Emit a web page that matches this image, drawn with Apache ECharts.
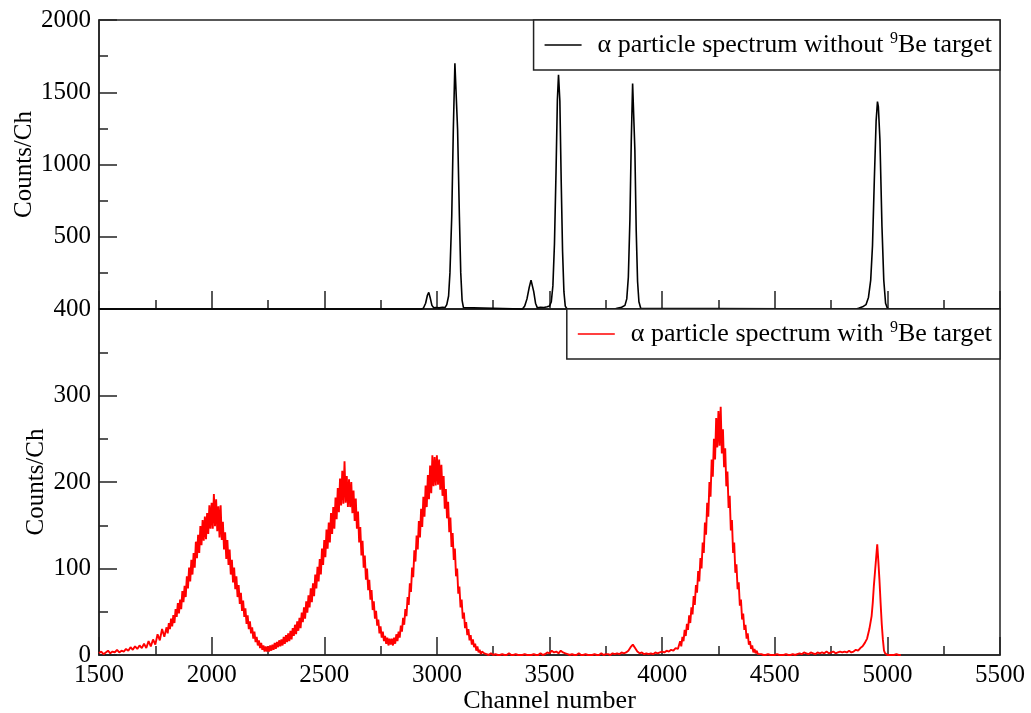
<!DOCTYPE html>
<html>
<head>
<meta charset="utf-8">
<script src="https://cdn.jsdelivr.net/npm/echarts@6/dist/echarts.min.js"></script>
<style>
html,body{margin:0;padding:0;background:#fff;}
#chart{width:1031px;height:713px;}
</style>
</head>
<body>
<div id="chart"></div>
<script>
// ---- Data ----
const blackName = 'α particle spectrum without 9Be target';
const redName = 'α particle spectrum with 9Be target';
const xTitle = 'Channel number';
const yTitle = 'Counts/Ch';

// [channel, counts] — spectrum without target (top panel)
const blackSpectrum = [
  [1500,0],[2930,0],[2940,5],[2950,40],[2958,95],[2964,115],[2970,80],[2978,25],[2986,8],
  [2995,10],[3010,8],[3025,12],[3036,10],[3044,30],[3052,90],[3058,250],[3066,640],[3073,1240],
  [3080,1700],[3085,1690],[3092,1240],[3100,640],[3106,250],[3112,60],[3118,10],[3126,0],
  [3380,0],[3390,20],[3400,70],[3410,150],[3418,200],[3424,190],[3430,120],[3438,40],[3446,8],
  [3460,12],[3475,10],[3490,15],[3500,20],[3508,50],[3515,160],[3522,450],[3529,950],[3535,1450],
  [3540,1620],[3546,1440],[3552,880],[3558,400],[3564,120],[3570,20],[3578,0],
  [3790,0],[3800,5],[3820,12],[3835,25],[3843,70],[3850,220],[3857,620],[3863,1160],[3869,1560],
  [3873,1550],[3879,1100],[3885,540],[3891,190],[3897,50],[3905,5],[3912,0],
  [4860,0],[4872,5],[4890,15],[4905,30],[4916,80],[4926,200],[4934,440],[4942,890],[4950,1300],
  [4956,1435],[4960,1400],[4967,1170],[4976,570],[4984,200],[4992,40],[5000,5],[5010,0],[5500,0]
];

// [channel, counts] — spectrum with 9Be target (bottom panel)
const redSpectrum = [
  [1500,2],[1510,4],[1520,1],[1530,3],[1540,5],[1550,2],[1560,4],[1570,3],[1580,6],[1590,3],
  [1600,5],[1610,4],[1620,7],[1630,5],[1640,9],[1650,6],[1660,10],[1670,7],[1680,11],[1690,8],
  [1700,13],[1710,8],[1720,16],[1730,10],[1740,18],[1750,12],[1760,24],[1770,17],[1780,30],[1790,21],
  [1800,32],[1805,25],[1810,37],[1815,30],[1820,42],[1825,33],[1830,46],[1835,37],[1840,53],[1845,44],
  [1850,60],[1855,48],[1860,64],[1865,53],[1870,74],[1875,61],[1880,80],[1885,67],[1890,91],[1895,77],
  [1900,101],[1905,85],[1910,110],[1915,93],[1920,118],[1925,101],[1930,131],[1935,112],[1940,139],[1945,118],
  [1950,149],[1955,127],[1960,156],[1965,132],[1970,160],[1975,134],[1980,164],[1985,140],[1990,173],[1995,146],
  [2000,176],[2005,146],[2010,186],[2015,149],[2020,180],[2025,143],[2030,172],[2035,136],[2040,173],[2045,133],
  [2050,154],[2055,122],[2060,142],[2065,111],[2070,133],[2075,104],[2080,122],[2085,93],[2090,110],[2095,84],
  [2100,101],[2105,76],[2110,91],[2115,67],[2120,81],[2125,59],[2130,72],[2135,51],[2140,63],[2145,44],
  [2150,54],[2155,36],[2160,46],[2165,30],[2170,39],[2175,25],[2180,32],[2185,19],[2190,27],[2195,15],
  [2200,21],[2205,11],[2210,17],[2215,8],[2220,14],[2225,6],[2230,11],[2235,4],[2240,10],[2245,4],
  [2250,10],[2255,4],[2260,11],[2265,5],[2270,12],[2275,6],[2280,14],[2285,7],[2290,15],[2295,9],
  [2300,17],[2305,10],[2310,18],[2315,11],[2320,21],[2325,13],[2330,23],[2335,15],[2340,25],[2345,16],
  [2350,28],[2355,18],[2360,31],[2365,22],[2370,35],[2375,24],[2380,39],[2385,28],[2390,43],[2395,31],
  [2400,49],[2405,38],[2410,55],[2415,42],[2420,62],[2425,49],[2430,69],[2435,55],[2440,77],[2445,61],
  [2450,83],[2455,68],[2460,93],[2465,77],[2470,102],[2475,85],[2480,111],[2485,93],[2490,123],[2495,104],
  [2500,133],[2505,113],[2510,145],[2515,123],[2520,153],[2525,130],[2530,164],[2535,140],[2540,171],[2545,146],
  [2550,182],[2555,157],[2560,193],[2565,165],[2570,204],[2575,173],[2580,213],[2585,175],[2590,224],[2595,176],
  [2600,207],[2605,171],[2610,203],[2615,171],[2620,200],[2625,164],[2630,190],[2635,155],[2640,181],[2645,146],
  [2650,166],[2655,130],[2660,148],[2665,115],[2670,132],[2675,101],[2680,115],[2685,87],[2690,100],[2695,75],
  [2700,87],[2705,64],[2710,75],[2715,52],[2720,62],[2725,42],[2730,51],[2735,34],[2740,41],[2745,25],
  [2750,33],[2755,20],[2760,27],[2765,16],[2770,22],[2775,13],[2780,20],[2785,11],[2790,19],[2795,12],
  [2800,19],[2805,11],[2810,20],[2815,13],[2820,24],[2825,16],[2830,27],[2835,20],[2840,34],[2845,27],
  [2850,43],[2855,35],[2860,53],[2865,45],[2870,67],[2875,58],[2880,83],[2885,73],[2890,101],[2895,90],
  [2900,121],[2905,108],[2910,138],[2915,122],[2920,155],[2925,136],[2930,169],[2935,148],[2940,183],[2945,160],
  [2950,196],[2955,171],[2960,208],[2965,180],[2970,219],[2975,187],[2980,231],[2985,195],[2990,229],[2995,196],
  [3000,231],[3005,197],[3010,226],[3015,191],[3020,220],[3025,184],[3030,207],[3035,169],[3040,192],[3045,158],
  [3050,177],[3055,142],[3060,159],[3065,125],[3070,141],[3075,110],[3080,123],[3085,91],[3090,100],[3095,71],
  [3100,79],[3105,55],[3110,64],[3115,42],[3120,49],[3125,31],[3130,38],[3135,23],[3140,30],[3145,17],
  [3150,23],[3155,12],[3160,18],[3165,9],[3170,13],[3175,5],[3180,10],[3185,3],[3190,6],[3195,1],
  [3200,4],[3210,2],[3220,1],[3230,0],[3240,2],[3250,0],[3260,1],[3270,0],[3280,0],[3290,1],
  [3300,0],[3310,0],[3320,2],[3330,0],[3340,0],[3350,1],[3360,0],[3370,0],[3380,0],[3390,1],
  [3400,0],[3410,0],[3420,0],[3430,1],[3440,0],[3450,0],[3460,2],[3470,0],[3480,1],[3490,3],
  [3500,2],[3510,5],[3520,3],[3530,4],[3540,2],[3550,5],[3560,3],[3570,2],[3580,1],[3590,0],
  [3600,1],[3610,0],[3620,0],[3630,2],[3640,0],[3650,0],[3660,1],[3670,0],[3680,0],[3690,0],
  [3700,1],[3710,0],[3720,0],[3730,2],[3740,0],[3750,1],[3760,1],[3770,0],[3780,2],[3790,1],
  [3800,2],[3810,1],[3820,3],[3830,2],[3840,3],[3850,5],[3860,9],[3870,12],[3880,8],[3890,4],
  [3900,2],[3910,3],[3920,1],[3930,2],[3940,1],[3950,2],[3960,1],[3970,3],[3980,2],[3990,3],
  [4000,4],[4010,3],[4020,5],[4030,4],[4040,6],[4050,5],[4060,8],[4070,7],
  [4080,16],[4085,10],[4090,21],[4095,16],[4100,29],[4105,22],[4110,36],[4115,29],[4120,46],[4125,37],
  [4130,55],[4135,47],[4140,68],[4145,58],[4150,81],[4155,72],[4160,97],[4165,85],[4170,112],[4175,100],
  [4180,130],[4185,118],[4190,153],[4195,139],[4200,176],[4205,160],[4210,200],[4215,183],[4220,226],[4225,206],
  [4230,250],[4235,226],[4240,274],[4245,240],[4250,282],[4255,242],[4260,287],[4265,233],[4270,261],[4275,217],
  [4280,239],[4285,195],[4290,212],[4295,170],[4300,184],[4305,144],[4310,156],[4315,118],[4320,130],[4325,95],
  [4330,105],[4335,76],[4340,84],[4345,57],[4350,64],[4355,41],[4360,48],[4365,29],[4370,35],[4375,19],
  [4380,25],[4385,12],[4390,16],[4395,7],[4400,11],[4405,3],[4410,7],[4415,2],[4420,5],[4425,1],
  [4430,1],[4440,1],[4450,0],[4460,0],[4470,1],[4480,0],[4490,0],
  [4500,0],[4510,1],[4520,0],[4530,0],[4540,0],[4550,1],[4560,0],[4570,0],[4580,1],[4590,0],
  [4600,1],[4610,2],[4620,1],[4630,3],[4640,2],[4650,1],[4660,3],[4670,2],[4680,1],[4690,3],
  [4700,2],[4710,3],[4720,2],[4730,4],[4740,2],[4750,3],[4760,4],[4770,2],[4780,3],[4790,4],
  [4800,3],[4810,4],[4820,3],[4830,5],[4840,3],[4850,4],[4860,6],[4870,5],[4880,8],[4890,10],
  [4900,14],[4910,19],[4920,30],[4930,45],[4935,60],[4940,80],[4945,96],[4950,112],[4955,128],[4960,108],
  [4965,86],[4970,60],[4975,36],[4980,18],[4985,5],[4990,2],[5000,0],[5010,0],[5020,0],[5030,0],
  [5040,1],[5050,0],[5060,0]
];

// ---- Chart ----
const FONT = "'Liberation Serif','DejaVu Serif','Times New Roman',serif";
const AX = '#222';
const chart = echarts.init(document.getElementById('chart'), null, {renderer: 'canvas'});

function legendCfg(name, top) {
  return {
    data: [name], right: 31, top: top, orient: 'horizontal',
    backgroundColor: '#fff', borderColor: AX, borderWidth: 1.5, borderRadius: 0,
    padding: [11, 8, 11, 11], itemWidth: 37, itemHeight: 1.5, icon: 'rect',
    selectedMode: false, z: 10,
    formatter: n => '{sp| }' + n.replace('9Be', '{sup|9}Be'),
    textStyle: {
      fontFamily: FONT, fontSize: 26, color: '#000', lineHeight: 28,
      rich: {
        sp: {width: 11, fontSize: 26, lineHeight: 28},
        sup: {fontSize: 16, lineHeight: 16, verticalAlign: 'top', fontFamily: FONT, color: '#000'}
      }
    }
  };
}

function xAxisCfg(gridIndex, showLabels) {
  return {
    type: 'value', gridIndex: gridIndex, min: 1500, max: 5500, interval: 500,
    axisLine: {show: true, lineStyle: {color: AX, width: 1.5}},
    axisTick: {show: true, inside: true, length: 18, lineStyle: {color: AX, width: 1.5}},
    minorTick: {show: true, splitNumber: 2, length: 9, lineStyle: {color: AX, width: 1.5}},
    splitLine: {show: false},
    axisLabel: {show: showLabels, fontFamily: FONT, fontSize: 25, color: '#000', margin: 8,
      formatter: v => String(v)},
    name: showLabels ? xTitle : '', nameLocation: 'middle', nameGap: 33, nameMoveOverlap: false,
    nameTextStyle: {fontFamily: FONT, fontSize: 26, color: '#000'}
  };
}

function yAxisCfg(gridIndex, max, interval, hideZero, nameGap) {
  return {
    type: 'value', gridIndex: gridIndex, min: 0, max: max, interval: interval,
    axisLine: {show: true, lineStyle: {color: AX, width: 1.5}},
    axisTick: {show: true, inside: true, length: 18, lineStyle: {color: AX, width: 1.5}},
    minorTick: {show: true, splitNumber: 2, length: 9, lineStyle: {color: AX, width: 1.5}},
    splitLine: {show: false},
    axisLabel: {
      fontFamily: FONT, fontSize: 25, color: '#000', margin: 8, showMaxLabel: true, showMinLabel: true,
      formatter: v => (hideZero && v === 0) ? '' : String(v)
    },
    name: yTitle, nameLocation: 'middle', nameGap: nameGap, nameRotate: 90, nameMoveOverlap: false,
    nameTextStyle: {fontFamily: FONT, fontSize: 25, color: '#000'}
  };
}

chart.setOption({
  animation: false,
  backgroundColor: '#fff',
  grid: [
    {left: 99, right: 31, top: 20, height: 289, show: true, borderColor: AX, borderWidth: 1.5,
     backgroundColor: 'transparent', containLabel: false, outerBoundsMode: 'none'},
    {left: 99, right: 31, top: 309, height: 346, show: true, borderColor: AX, borderWidth: 1.5,
     backgroundColor: 'transparent', containLabel: false, outerBoundsMode: 'none'}
  ],
  legend: [legendCfg(blackName, 20), legendCfg(redName, 309)],
  xAxis: [xAxisCfg(0, false), xAxisCfg(1, true)],
  yAxis: [yAxisCfg(0, 2000, 500, true, 62), yAxisCfg(1, 400, 100, false, 50)],
  series: [
    {
      name: blackName, type: 'line', xAxisIndex: 0, yAxisIndex: 0, data: blackSpectrum,
      showSymbol: false, symbol: 'none', color: '#000', lineStyle: {color: '#000', width: 1.6},
      z: 3, clip: false
    },
    {
      name: redName, type: 'line', xAxisIndex: 1, yAxisIndex: 1, data: redSpectrum,
      showSymbol: false, symbol: 'none', color: '#ff0000', lineStyle: {color: '#ff0000', width: 1.9},
      z: 3, clip: true
    }
  ]
});
</script>
</body>
</html>
